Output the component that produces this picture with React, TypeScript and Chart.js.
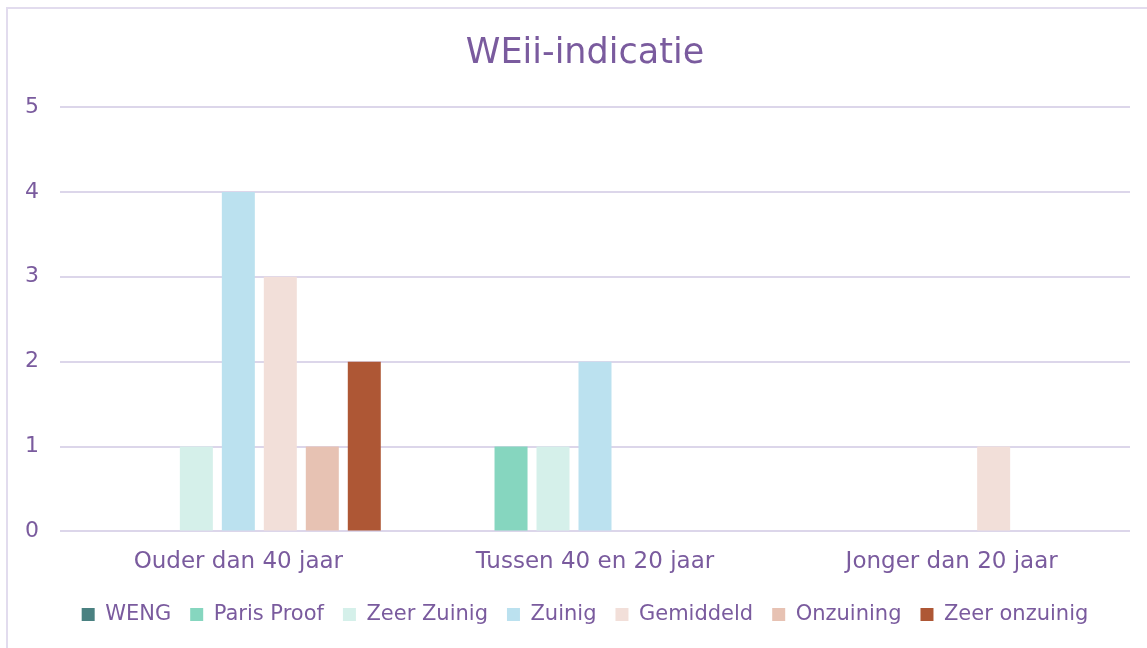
import React, { useEffect, useRef } from "react";
import { Chart, registerables } from "chart.js";

Chart.register(...registerables);

const categories = ["Ouder dan 40 jaar", "Tussen 40 en 20 jaar", "Jonger dan 20 jaar"];
const seriesNames = ["WENG", "Paris Proof", "Zeer Zuinig", "Zuinig", "Gemiddeld", "Onzuining", "Zeer onzuinig"];
const weng = [0, 0, 0];
const parisProof = [0, 1, 0];
const zeerZuinig = [1, 1, 0];
const zuinig = [4, 2, 0];
const gemiddeld = [3, 0, 1];
const onzuining = [1, 0, 0];
const zeerOnzuinig = [2, 0, 0];
const seriesColors = ["#4a8181", "#86d6bf", "#d5f0ea", "#bbe1ef", "#f2dfd9", "#e7c2b3", "#ae5735"];
const title = "WEii-indicatie";

const TEXT = "#7a5b9e";
const GRID = "#dcd6ea";
const FONT = "'DejaVu Sans', sans-serif";

export default function App() {
  const ref = useRef<HTMLCanvasElement | null>(null);
  useEffect(() => {
    document.body.style.margin = "0";
    const values = [weng, parisProof, zeerZuinig, zuinig, gemiddeld, onzuining, zeerOnzuinig];
    const chart = new Chart(ref.current!, {
      type: "bar",
      data: {
        labels: categories,
        datasets: seriesNames.map((n, i) => ({
          label: n,
          data: values[i],
          backgroundColor: seriesColors[i],
          borderWidth: 0,
          barPercentage: 0.786,
          categoryPercentage: 0.824,
        })),
      },
      options: {
        animation: false,
        responsive: false,
        maintainAspectRatio: false,
        layout: { padding: { left: 40, right: 17, top: 23, bottom: 13 } },
        plugins: {
          tooltip: { enabled: false },
          title: {
            display: true,
            text: title,
            color: TEXT,
            font: { family: FONT, size: 35, weight: "normal" },
            padding: { top: 10, bottom: 32 },
          },
          legend: {
            position: "bottom",
            labels: {
              color: TEXT,
              font: { family: FONT, size: 21 },
              boxWidth: 13,
              boxHeight: 13,
              padding: 19,
            },
          },
        },
        scales: {
          x: {
            grid: { display: false },
            border: { display: false },
            ticks: { color: TEXT, font: { family: FONT, size: 23 }, padding: 9, maxRotation: 0 },
          },
          y: {
            min: 0,
            max: 5,
            afterFit: (s: any) => { s.width = 20; },
            grid: { color: GRID, lineWidth: 2, drawTicks: false },
            border: { display: false },
            ticks: { stepSize: 1, color: TEXT, font: { family: FONT, size: 22 }, mirror: true, padding: -35 },
          },
        },
      },
    });
    return () => chart.destroy();
  }, []);
  return (
    <div style={{ position: "relative", width: 1147, height: 648, overflow: "hidden", background: "#fff" }}>
      <div style={{ position: "absolute", left: 6, top: 7, width: 1150, height: 660, border: "2px solid #e2dcee", boxSizing: "border-box" }} />
      <canvas ref={ref} width={1147} height={648} style={{ position: "absolute", left: 0, top: 0, display: "block" }} />
    </div>
  );
}
